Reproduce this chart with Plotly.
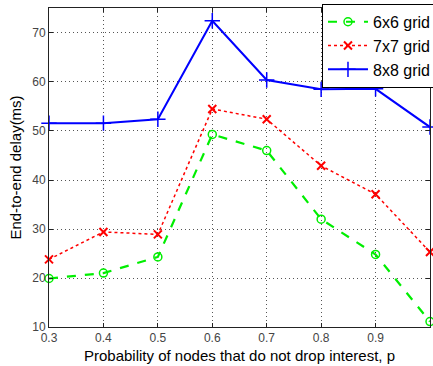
import plotly.graph_objects as go

p = [0.3, 0.4, 0.5, 0.6, 0.7, 0.8, 0.9, 1.0]
grid6 = [19.9, 21.0, 24.3, 49.3, 46.0, 32.0, 24.8, 11.1]
grid7 = [23.8, 29.4, 28.9, 54.5, 52.4, 42.9, 37.1, 25.3]
grid8 = [51.6, 51.6, 52.4, 72.5, 60.4, 58.5, 58.6, 50.8]
x_ticks = [0.3, 0.4, 0.5, 0.6, 0.7, 0.8, 0.9, 1.0]
x_ticklabels = ["0.3", "0.4", "0.5", "0.6", "0.7", "0.8", "0.9", "1"]
y_ticks = [10, 20, 30, 40, 50, 60, 70]

fig = go.Figure()
fig.add_trace(go.Scatter(
    x=p, y=grid6, name="6x6 grid", mode="lines+markers",
    line=dict(color="#00ee00", width=2.2, dash="dash"),
    marker=dict(symbol="circle-open", size=8, color="#00ee00", line=dict(width=1.5)),
    cliponaxis=False))
fig.add_trace(go.Scatter(
    x=p, y=grid7, name="7x7 grid", mode="lines+markers",
    line=dict(color="#ff0000", width=1.5, dash="dot"),
    marker=dict(symbol="x-thin-open", size=8, color="#ff0000", line=dict(width=2, color="#ff0000")),
    cliponaxis=False))
fig.add_trace(go.Scatter(
    x=p, y=grid8, name="8x8 grid", mode="lines+markers",
    line=dict(color="#0000ff", width=2),
    marker=dict(symbol="cross-thin-open", size=11, color="#0000ff", line=dict(width=1.5, color="#0000ff")),
    cliponaxis=False))

fig.update_layout(
    width=433, height=366,
    margin=dict(l=49, r=3, t=8, b=39, autoexpand=False),
    paper_bgcolor="white", plot_bgcolor="white",
    font=dict(family="Liberation Sans, Arial, sans-serif", color="#000"),
    showlegend=True,
    legend=dict(x=0.7165, y=1.013, xanchor="left", yanchor="top",
                bgcolor="white", bordercolor="#000", borderwidth=1,
                font=dict(size=16, color="#000"), tracegroupgap=0,
                itemwidth=40),
    xaxis=dict(range=[0.3, 1.0], tickvals=x_ticks, ticktext=x_ticklabels,
               showgrid=True, gridcolor="#555", griddash="1px,3px", gridwidth=1,
               showline=True, linecolor="#222", linewidth=1, mirror="ticks",
               ticks="inside", ticklen=4, tickcolor="#222", automargin=False,
               tickfont=dict(size=12, color="#444"), zeroline=False,
               title=dict(text="Probability of nodes that do not drop interest, p",
                          font=dict(size=15, color="#000"), standoff=6)),
    yaxis=dict(range=[10, 75.1], tickvals=y_ticks,
               showgrid=True, gridcolor="#555", griddash="1px,3px", gridwidth=1,
               showline=True, linecolor="#222", linewidth=1, mirror="ticks",
               ticks="inside", ticklen=4, tickcolor="#222", automargin=False,
               tickfont=dict(size=12, color="#444"), zeroline=False,
               title=dict(text="End-to-end delay(ms)",
                          font=dict(size=15, color="#000"), standoff=6)),
)

fig.write_html("out.html", config={"displayModeBar": False},
               post_script="document.body.style.margin='0';document.body.style.overflow='hidden';")
